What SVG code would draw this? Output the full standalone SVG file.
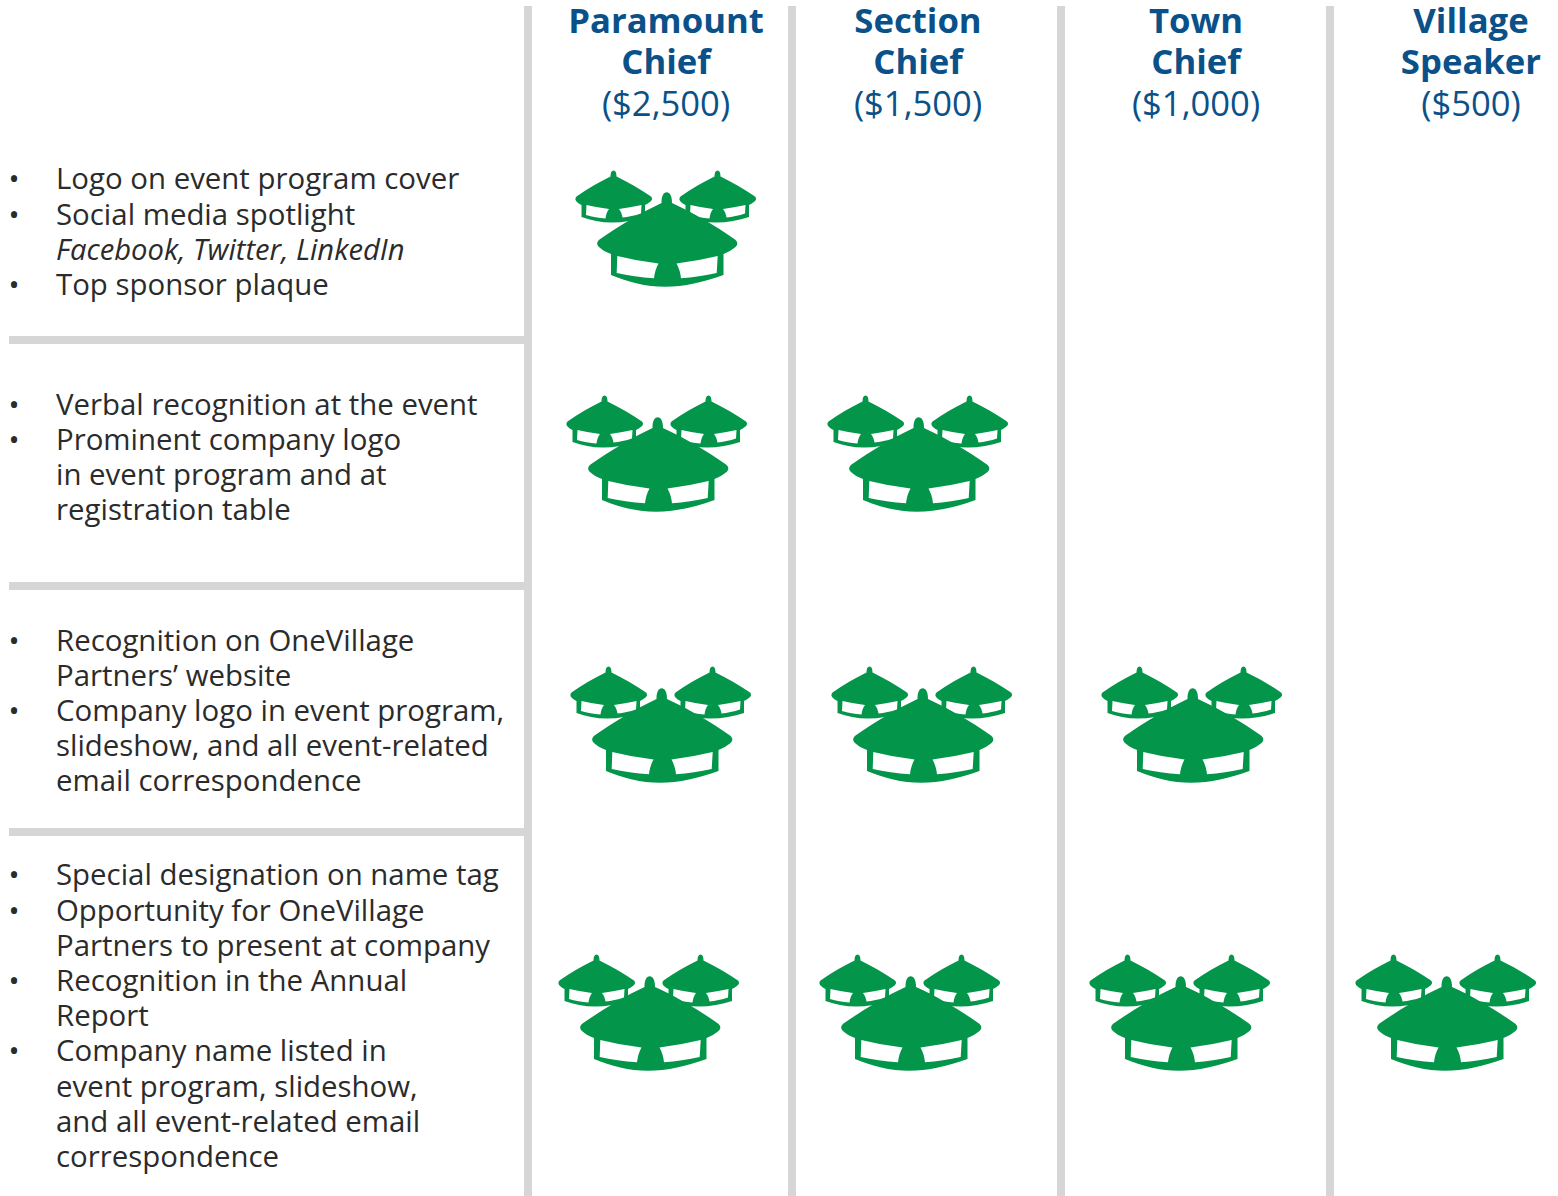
<svg xmlns="http://www.w3.org/2000/svg" xmlns:xlink="http://www.w3.org/1999/xlink" width="1558" height="1196" viewBox="0 0 1558 1196">
<style>
text{font-family:"Open Sans","Noto Sans",sans-serif}
.b{font-size:29.4px;fill:#2b2b2b}
.i{font-style:italic;font-size:29.2px}
.h{font-size:34.7px;font-weight:700;fill:#0b5189;text-anchor:middle}
.p{font-size:34.6px;fill:#0b5189;text-anchor:middle}
.g{fill:#d6d6d6}
.t{fill:#03964a}
.w{fill:#fff}
</style>
<defs>
<g id="small">
<path class="t" d="M610.500 176.500C610.500 172.500 611.500 170.500 613.500 170.500S616.500 172.500 616.500 176.500C628 182 640 189 651 196.500C652.500 198 652.500 200 650.500 201.500C648.500 203 647 204 645 205V217C635 220.500 623 222.500 612 222.500C601 222.500 591 220.500 581.500 217V205C579.500 204 578 203 576.500 201.500C575 200 575 198 576.500 196.500C587 189 599 182 610.500 176.500Z"/>
<path class="w" d="M586.500 205Q597 207.500 609 209C607 211.500 606 214.500 605.500 218.500C599 218 592 217 586 215ZM641.500 205Q630 207.500 619 209C621 211.500 622 214.500 622.500 217.500C628 217 635 215.500 641 213.500Z"/>
</g>
<g id="hut">
<use xlink:href="#small"/>
<use xlink:href="#small" x="104"/>
<path class="t" d="M661.500 203C661.500 196 663.500 192.300 666.700 192.300S672 196 672 203C694 213 716 226 735 239.500C738 242 738 245 735.500 247C732 250 728 252 723.500 254V275C704 282 684 286.800 665 286.800C646 286.800 628 282 611 275V254C606 252 602 250 599 247C596.500 245 596.500 242 599.500 239.500C619 226 640 213 661.500 203Z"/>
<path class="w" d="M617.300 256Q637 261 658.500 263.500C656 268 654.500 273 654 278.300C641 277.500 628 275.500 616.700 273ZM717.700 256Q697 261 676.500 263.500C679 268 680.500 273 681 278.300C693 277.500 705 275.500 716.700 273Z"/>
</g>
</defs>
<g id="grid">
<rect class="g" x="524" y="6" width="8" height="1190"/>
<rect class="g" x="788" y="6" width="8" height="1190"/>
<rect class="g" x="1057" y="6" width="8" height="1190"/>
<rect class="g" x="1326" y="6" width="8" height="1190"/>
<rect class="g" x="9" y="336" width="515" height="8"/>
<rect class="g" x="9" y="582" width="515" height="8"/>
<rect class="g" x="9" y="828" width="515" height="8"/>
</g>
<g id="headers">
<text class="h" x="666" y="33">Paramount</text><text class="h" x="666" y="74">Chief</text><text class="p" x="666" y="116">($2,500)</text>
<text class="h" x="918" y="33">Section</text><text class="h" x="918" y="74">Chief</text><text class="p" x="918" y="116">($1,500)</text>
<text class="h" x="1196" y="33">Town</text><text class="h" x="1196" y="74">Chief</text><text class="p" x="1196" y="116">($1,000)</text>
<text class="h" x="1471" y="33">Village</text><text class="h" x="1471" y="74">Speaker</text><text class="p" x="1471" y="116">($500)</text>
</g>
<g id="row1-text">
<text class="b" x="8.500" y="189">•</text><text class="b" x="56" y="189">Logo on event program cover</text>
<text class="b" x="8.500" y="225">•</text><text class="b" x="56" y="225">Social media spotlight</text>
<text class="b i" x="56" y="260">Facebook, Twitter, LinkedIn</text>
<text class="b" x="8.500" y="295">•</text><text class="b" x="56" y="295">Top sponsor plaque</text>
</g>
<g id="row2-text">
<text class="b" x="8.500" y="415">•</text><text class="b" x="56" y="415">Verbal recognition at the event</text>
<text class="b" x="8.500" y="450">•</text><text class="b" x="56" y="450">Prominent company logo</text>
<text class="b" x="56" y="485">in event program and at</text>
<text class="b" x="56" y="520">registration table</text>
</g>
<g id="row3-text">
<text class="b" x="8.500" y="651">•</text><text class="b" x="56" y="651">Recognition on OneVillage</text>
<text class="b" x="56" y="686">Partners’ website</text>
<text class="b" x="8.500" y="721">•</text><text class="b" x="56" y="721">Company logo in event program,</text>
<text class="b" x="56" y="756">slideshow, and all event-related</text>
<text class="b" x="56" y="791">email correspondence</text>
</g>
<g id="row4-text">
<text class="b" x="8.500" y="885">•</text><text class="b" x="56" y="885">Special designation on name tag</text>
<text class="b" x="8.500" y="921">•</text><text class="b" x="56" y="921">Opportunity for OneVillage</text>
<text class="b" x="56" y="956">Partners to present at company</text>
<text class="b" x="8.500" y="991">•</text><text class="b" x="56" y="991">Recognition in the Annual</text>
<text class="b" x="56" y="1026">Report</text>
<text class="b" x="8.500" y="1061">•</text><text class="b" x="56" y="1061">Company name listed in</text>
<text class="b" x="56" y="1097">event program, slideshow,</text>
<text class="b" x="56" y="1132">and all event-related email</text>
<text class="b" x="56" y="1167">correspondence</text>
</g>
<g id="icons">
<use id="r1c1" xlink:href="#hut"/>
<use id="r2c1" xlink:href="#hut" x="-9" y="225"/>
<use id="r2c2" xlink:href="#hut" x="252" y="225"/>
<use id="r3c1" xlink:href="#hut" x="-5" y="496"/>
<use id="r3c2" xlink:href="#hut" x="256" y="496"/>
<use id="r3c3" xlink:href="#hut" x="526" y="496"/>
<use id="r4c1" xlink:href="#hut" x="-17" y="784"/>
<use id="r4c2" xlink:href="#hut" x="244" y="784"/>
<use id="r4c3" xlink:href="#hut" x="514" y="784"/>
<use id="r4c4" xlink:href="#hut" x="780" y="784"/>
</g>
</svg>
